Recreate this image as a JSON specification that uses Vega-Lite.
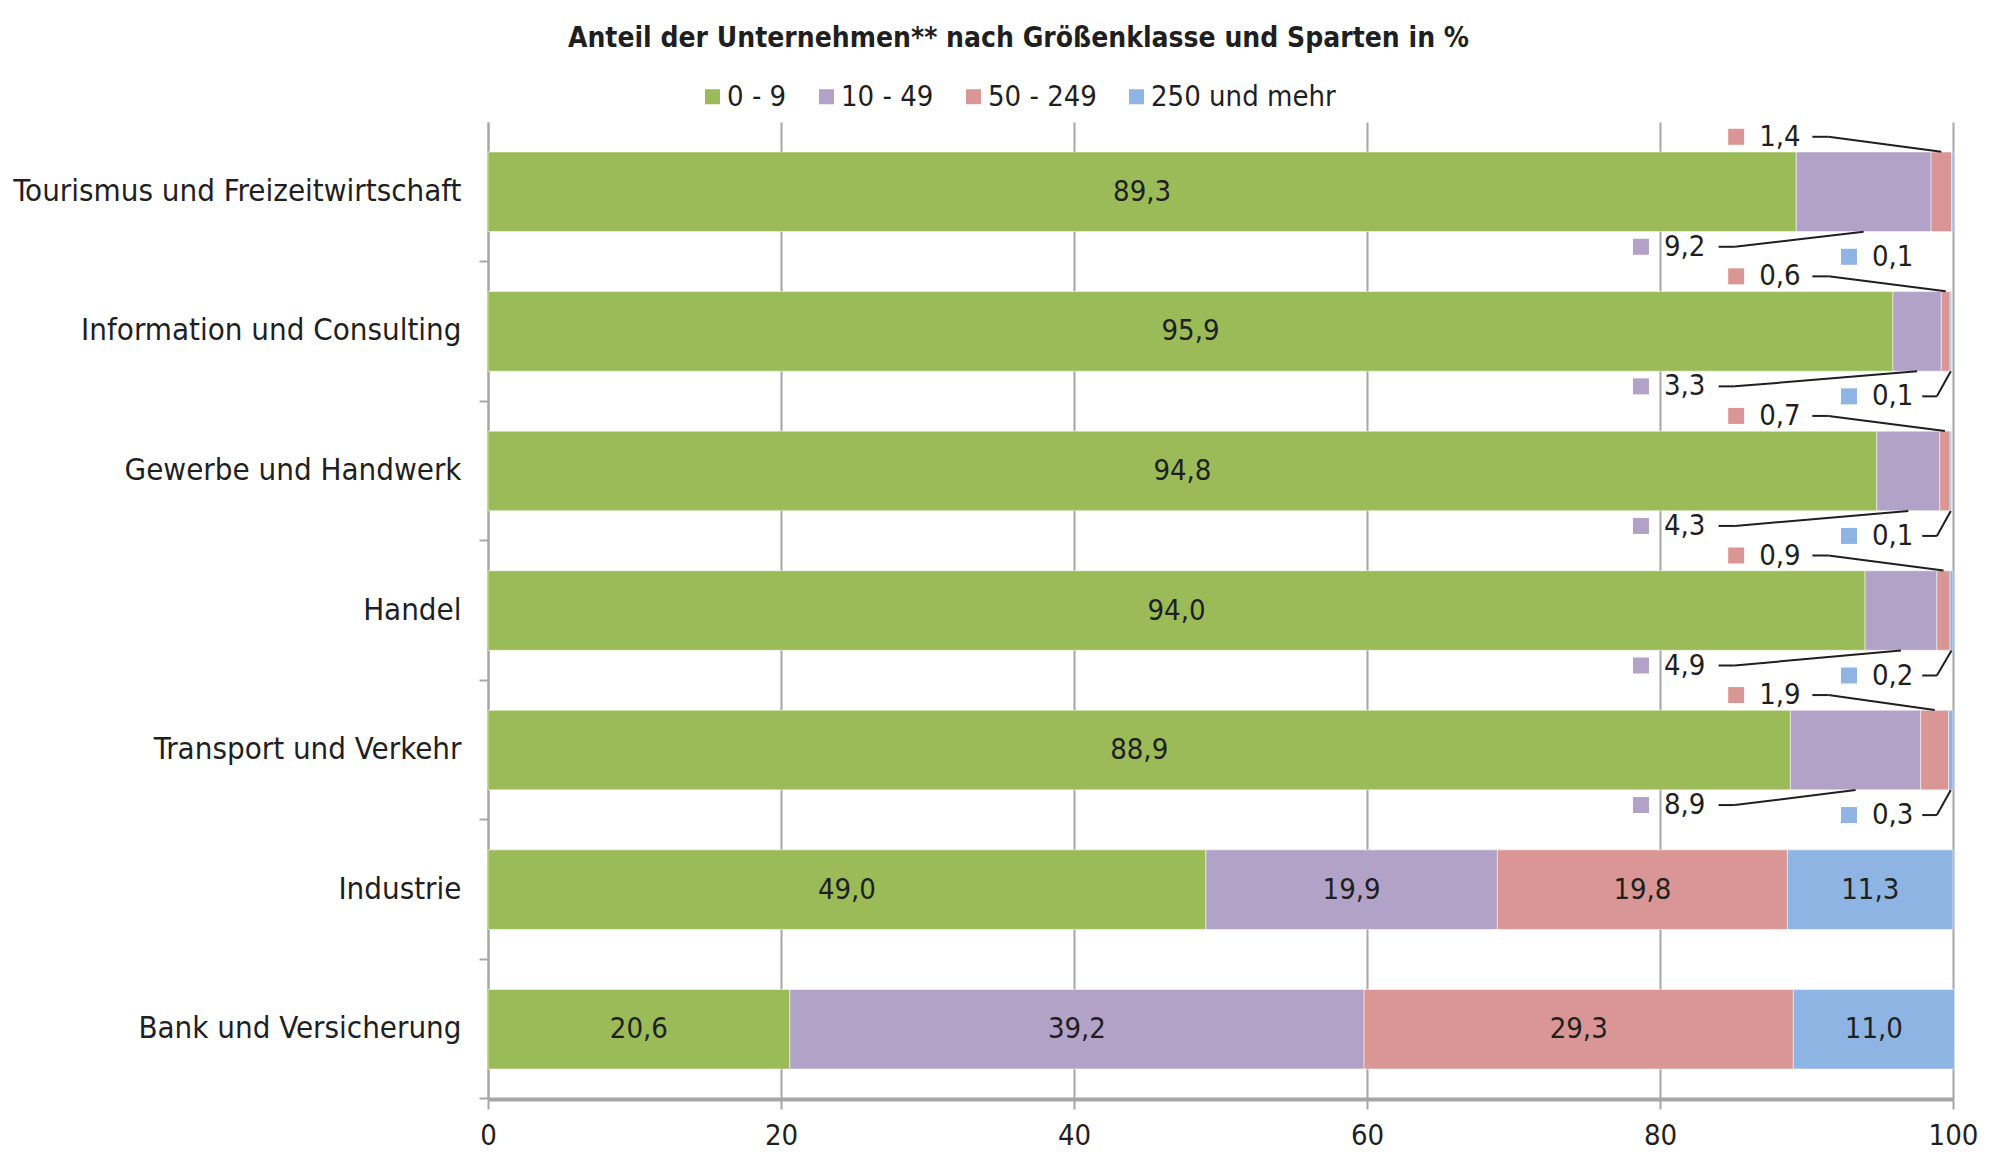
{
  "$schema": "https://vega.github.io/schema/vega-lite/v6.json",
  "width": 1465,
  "height": 977,
  "autosize": "none",
  "padding": {"left": 488, "top": 122, "right": 62, "bottom": 77},
  "background": "white",
  "title": {
    "text": "Anteil der Unternehmen** nach Größenklasse und Sparten in %",
    "anchor": "middle",
    "frame": "group",
    "dx": -202,
    "offset": 29,
    "fontSize": 28,
    "fontWeight": "bold",
    "color": "#1F1F1F"
  },
  "config": {
    "font": "DejaVu Sans Condensed, DejaVu Sans",
    "view": {"stroke": null},
    "locale": {"number": {"decimal": ",", "thousands": ".", "grouping": [3], "currency": ["", " €"]}}
  },
  "data": {
    "values": [
      {"Sparte": "Tourismus und Freizeitwirtschaft", "Klasse": "0 - 9", "Anteil": 89.3},
      {"Sparte": "Tourismus und Freizeitwirtschaft", "Klasse": "10 - 49", "Anteil": 9.2},
      {"Sparte": "Tourismus und Freizeitwirtschaft", "Klasse": "50 - 249", "Anteil": 1.4},
      {"Sparte": "Tourismus und Freizeitwirtschaft", "Klasse": "250 und mehr", "Anteil": 0.1},
      {"Sparte": "Information und Consulting", "Klasse": "0 - 9", "Anteil": 95.9},
      {"Sparte": "Information und Consulting", "Klasse": "10 - 49", "Anteil": 3.3},
      {"Sparte": "Information und Consulting", "Klasse": "50 - 249", "Anteil": 0.6},
      {"Sparte": "Information und Consulting", "Klasse": "250 und mehr", "Anteil": 0.1},
      {"Sparte": "Gewerbe und Handwerk", "Klasse": "0 - 9", "Anteil": 94.8},
      {"Sparte": "Gewerbe und Handwerk", "Klasse": "10 - 49", "Anteil": 4.3},
      {"Sparte": "Gewerbe und Handwerk", "Klasse": "50 - 249", "Anteil": 0.7},
      {"Sparte": "Gewerbe und Handwerk", "Klasse": "250 und mehr", "Anteil": 0.1},
      {"Sparte": "Handel", "Klasse": "0 - 9", "Anteil": 94.0},
      {"Sparte": "Handel", "Klasse": "10 - 49", "Anteil": 4.9},
      {"Sparte": "Handel", "Klasse": "50 - 249", "Anteil": 0.9},
      {"Sparte": "Handel", "Klasse": "250 und mehr", "Anteil": 0.2},
      {"Sparte": "Transport und Verkehr", "Klasse": "0 - 9", "Anteil": 88.9},
      {"Sparte": "Transport und Verkehr", "Klasse": "10 - 49", "Anteil": 8.9},
      {"Sparte": "Transport und Verkehr", "Klasse": "50 - 249", "Anteil": 1.9},
      {"Sparte": "Transport und Verkehr", "Klasse": "250 und mehr", "Anteil": 0.3},
      {"Sparte": "Industrie", "Klasse": "0 - 9", "Anteil": 49.0},
      {"Sparte": "Industrie", "Klasse": "10 - 49", "Anteil": 19.9},
      {"Sparte": "Industrie", "Klasse": "50 - 249", "Anteil": 19.8},
      {"Sparte": "Industrie", "Klasse": "250 und mehr", "Anteil": 11.3},
      {"Sparte": "Bank und Versicherung", "Klasse": "0 - 9", "Anteil": 20.6},
      {"Sparte": "Bank und Versicherung", "Klasse": "10 - 49", "Anteil": 39.2},
      {"Sparte": "Bank und Versicherung", "Klasse": "50 - 249", "Anteil": 29.3},
      {"Sparte": "Bank und Versicherung", "Klasse": "250 und mehr", "Anteil": 11.0}
    ]
  },
  "transform": [
    {"stack": "Anteil", "groupby": ["Sparte"], "as": ["s0", "s1"]}
  ],
  "encoding": {
    "y": {
      "field": "Sparte",
      "type": "nominal",
      "sort": null,
      "scale": {"paddingInner": 0.43, "paddingOuter": 0.215},
      "axis": {
        "title": null,
        "domainColor": "#A6A6A6",
        "domainWidth": 2,
        "tickColor": "#A6A6A6",
        "tickWidth": 2,
        "tickSize": 9,
        "bandPosition": 1.377,
        "labelFontSize": 31,
        "labelColor": "#1F1F1F",
        "labelPadding": 18,
        "labelLimit": 600
      }
    }
  },
  "layer": [
    {
      "mark": {"type": "bar", "stroke": "#FFFFFF", "strokeWidth": 1, "strokeOpacity": 0.5},
      "encoding": {
        "x": {
          "field": "s0",
          "type": "quantitative",
          "scale": {"domain": [0, 100], "nice": false},
          "axis": {
            "title": null,
            "values": [0, 20, 40, 60, 80, 100],
            "grid": true,
            "gridColor": "#A6A6A6",
            "gridWidth": 2,
            "domainColor": "#A6A6A6",
            "domainWidth": 4,
            "tickColor": "#A6A6A6",
            "tickWidth": 2,
            "tickSize": 10,
            "labelFontSize": 29,
            "labelColor": "#1F1F1F",
            "labelPadding": 12,
            "labelFlush": false
          }
        },
        "x2": {"field": "s1"},
        "color": {
          "field": "Klasse",
          "type": "nominal",
          "scale": {
            "domain": ["0 - 9", "10 - 49", "50 - 249", "250 und mehr"],
            "range": ["#9BBB59", "#B2A2C7", "#D99694", "#8EB4E3"]
          },
          "legend": {
            "title": null,
            "orient": "none",
            "direction": "horizontal",
            "legendX": 210,
            "legendY": -40,
            "symbolType": "square",
            "symbolSize": 225,
            "symbolStrokeWidth": 0,
            "labelFontSize": 29,
            "labelColor": "#1F1F1F",
            "labelOffset": 0,
            "labelLimit": 400,
            "columnPadding": 25
          }
        }
      }
    },
    {
      "transform": [
        {"fold": ["s0", "s1"], "as": ["pk", "pos"]},
        {"aggregate": [{"op": "mean", "field": "pos", "as": "mid"}], "groupby": ["Sparte", "Klasse", "Anteil"]}
      ],
      "layer": [
        {
          "transform": [{"filter": "datum.Anteil >= 10"}],
          "mark": {"type": "text", "fontSize": 29, "color": "#1F1F1F", "baseline": "middle"},
          "encoding": {
            "x": {"field": "mid", "type": "quantitative"},
            "text": {"field": "Anteil", "type": "quantitative", "format": ".1f"}
          }
        },
        {
          "transform": [{"filter": "datum.Anteil < 10 && datum.Klasse == '10 - 49'"}],
          "layer": [
            {
              "mark": {"type": "square", "filled": true, "size": 256, "opacity": 1, "yOffset": 55},
              "encoding": {"x": {"datum": 78.7, "type": "quantitative"}, "color": {"field": "Klasse", "type": "nominal"}}
            },
            {
              "mark": {"type": "text", "fontSize": 29, "color": "#1F1F1F", "align": "left", "baseline": "middle", "dx": 23, "yOffset": 55},
              "encoding": {"x": {"datum": 78.7, "type": "quantitative"}, "text": {"field": "Anteil", "type": "quantitative", "format": ".1f"}}
            },
            {
              "mark": {"type": "rule", "color": "#1F1F1F", "strokeWidth": 2, "yOffset": 55},
              "encoding": {"x": {"datum": 84.0, "type": "quantitative"}, "x2": {"datum": 85.1}}
            },
            {
              "mark": {"type": "rule", "color": "#1F1F1F", "strokeWidth": 2, "yOffset": 40, "y2Offset": 55},
              "encoding": {"x": {"field": "mid", "type": "quantitative"}, "x2": {"datum": 85.1}, "y2": {"field": "Sparte"}}
            }
          ]
        },
        {
          "transform": [{"filter": "datum.Anteil < 10 && datum.Klasse == '50 - 249'"}],
          "layer": [
            {
              "mark": {"type": "square", "filled": true, "size": 256, "opacity": 1, "yOffset": -55},
              "encoding": {"x": {"datum": 85.2, "type": "quantitative"}, "color": {"field": "Klasse", "type": "nominal"}}
            },
            {
              "mark": {"type": "text", "fontSize": 29, "color": "#1F1F1F", "align": "left", "baseline": "middle", "dx": 23, "yOffset": -55},
              "encoding": {"x": {"datum": 85.2, "type": "quantitative"}, "text": {"field": "Anteil", "type": "quantitative", "format": ".1f"}}
            },
            {
              "mark": {"type": "rule", "color": "#1F1F1F", "strokeWidth": 2, "yOffset": -55},
              "encoding": {"x": {"datum": 90.4, "type": "quantitative"}, "x2": {"datum": 91.5}}
            },
            {
              "mark": {"type": "rule", "color": "#1F1F1F", "strokeWidth": 2, "yOffset": -40, "y2Offset": -55},
              "encoding": {"x": {"field": "mid", "type": "quantitative"}, "x2": {"datum": 91.5}, "y2": {"field": "Sparte"}}
            }
          ]
        },
        {
          "transform": [{"filter": "datum.Anteil < 10 && datum.Klasse == '250 und mehr'"}],
          "layer": [
            {
              "mark": {"type": "square", "filled": true, "size": 256, "opacity": 1, "yOffset": 65},
              "encoding": {"x": {"datum": 92.9, "type": "quantitative"}, "color": {"field": "Klasse", "type": "nominal"}}
            },
            {
              "mark": {"type": "text", "fontSize": 29, "color": "#1F1F1F", "align": "left", "baseline": "middle", "dx": 23, "yOffset": 65},
              "encoding": {"x": {"datum": 92.9, "type": "quantitative"}, "text": {"field": "Anteil", "type": "quantitative", "format": ".1f"}}
            },
            {
              "transform": [{"filter": "datum.Sparte != 'Tourismus und Freizeitwirtschaft'"}],
              "mark": {"type": "rule", "color": "#1F1F1F", "strokeWidth": 2, "yOffset": 65},
              "encoding": {"x": {"datum": 97.9, "type": "quantitative"}, "x2": {"datum": 98.9}}
            },
            {
              "transform": [{"filter": "datum.Sparte != 'Tourismus und Freizeitwirtschaft'"}],
              "mark": {"type": "rule", "color": "#1F1F1F", "strokeWidth": 2, "yOffset": 40, "y2Offset": 65},
              "encoding": {"x": {"field": "mid", "type": "quantitative"}, "x2": {"datum": 98.9}, "y2": {"field": "Sparte"}}
            }
          ]
        }
      ]
    }
  ]
}
